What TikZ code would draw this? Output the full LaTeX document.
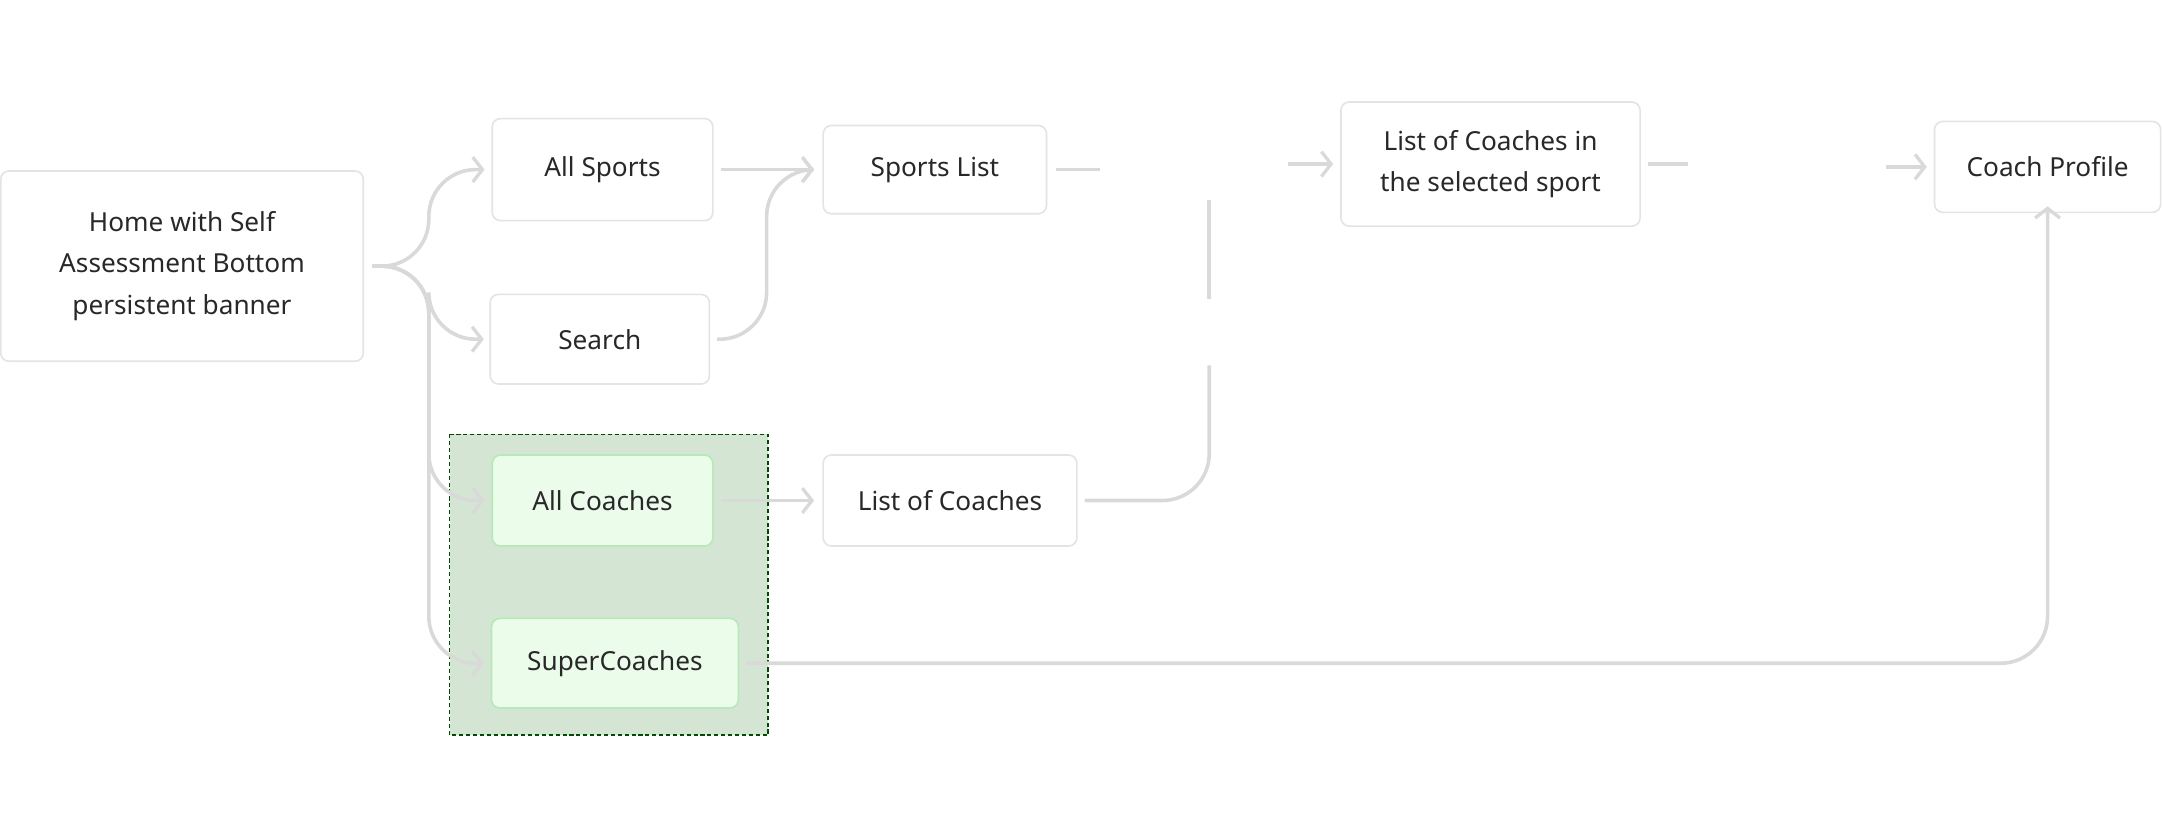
\documentclass[tikz,border=0pt]{standalone}
\usepackage{fontspec}
\setmainfont{Noto Sans}
\usetikzlibrary{arrows.meta}
\definecolor{lineGray}{RGB}{217,217,217}
\definecolor{boxGray}{RGB}{228,228,228}
\definecolor{textGray}{RGB}{40,40,40}
\definecolor{regionGreen}{RGB}{213,229,211}
\definecolor{cardGreen}{RGB}{236,252,234}
\tikzset{
  screen/.style = {draw=boxGray, fill=white, rounded corners=6pt, line width=1.2pt,
    text=textGray, font=\fontsize{19}{30}\selectfont, align=center, inner sep=0pt},
  greenScreen/.style = {screen, fill=cardGreen, draw=boxGray!80!green},
  flow/.style = {draw=lineGray, line width=2.6pt, rounded corners=34pt},
  tip/.style = {-{Straight Barb[length=7pt,width=18pt,line width=2.4pt]}}
}
\begin{document}
\begin{tikzpicture}[x=1pt, y=-1pt]
  \useasboundingbox (0,0) rectangle (1568,603);
  % region of coach entries
  \draw [fill=regionGreen, draw=black!70!green, densely dashed, line width=1pt] (326,315) rectangle (557,533);

  \node [screen, minimum width=263pt, minimum height=138pt] (home) at (132,193) {Home with Self\\Assessment Bottom\\persistent banner};
  \node [screen, minimum width=160pt, minimum height=74pt] (allSports) at (437,123) {All Sports};
  \node [screen, minimum width=159pt, minimum height=65pt] (search) at (435,246) {Search};
  \node [screen, minimum width=162pt, minimum height=64pt] (sportsList) at (678,123) {Sports List};
  \node [screen, minimum width=217pt, minimum height=90pt] (listSelected) at (1081,119) {List of Coaches in\\the selected sport};
  \node [screen, minimum width=164pt, minimum height=66pt] (coachProfile) at (1485,121) {Coach Profile};
  \node [greenScreen, minimum width=160pt, minimum height=66pt] (allCoaches) at (437,363) {All Coaches};
  \node [greenScreen, minimum width=179pt, minimum height=65pt] (superCoaches) at (446,481) {SuperCoaches};
  \node [screen, minimum width=184pt, minimum height=66pt] (listCoaches) at (689,363) {List of Coaches};

  % loose ends of the hidden-label connectors
  \coordinate (slEnd) at (798,123);
  \coordinate (lsStart) at (934,119);
  \coordinate (lcTop) at (877,265);
  \coordinate (vGapA) at (877,217);
  \coordinate (vGapB) at (877,145);
  \coordinate (lsEnd) at (1224,119);
  \coordinate (cpStart) at (1368,121);

  \draw [flow, tip] ([xshift=6pt]home.east) -| (311,123) -- ([xshift=-5pt]allSports.west);
  \draw [flow, tip] ([xshift=6pt]home.east) -| (311,246) -- ([xshift=-4pt]search.west);
  \draw [flow, tip] ([xshift=6pt]home.east) -| (311,363) -- ([xshift=-5pt]allCoaches.west);
  \draw [flow, tip] ([xshift=6pt]home.east) -| (311,481) -- ([xshift=-5pt]superCoaches.west);
  \draw [flow, tip] ([xshift=5pt]allSports.east) -- ([xshift=-6pt]sportsList.west);
  \draw [flow, tip] ([xshift=5pt]search.east) -| (556,123) -- ([xshift=-6pt]sportsList.west);
  \draw [flow, tip] ([xshift=5pt]allCoaches.east) -- ([xshift=-6pt]listCoaches.west);
  \draw [flow] ([xshift=6pt]sportsList.east) -- (slEnd);
  \draw [flow, tip] (lsStart) -- ([xshift=-5pt]listSelected.west);
  \draw [flow] ([xshift=5pt]listCoaches.east) -| (lcTop);
  \draw [flow] (vGapA) -- (vGapB);
  \draw [flow] ([xshift=5pt]listSelected.east) -- (lsEnd);
  \draw [flow, tip] (cpStart) -- ([xshift=-5pt]coachProfile.west);
  \draw [flow, tip] ([xshift=5pt]superCoaches.east) -| ([yshift=5pt]coachProfile.south);
\end{tikzpicture}
\end{document}
